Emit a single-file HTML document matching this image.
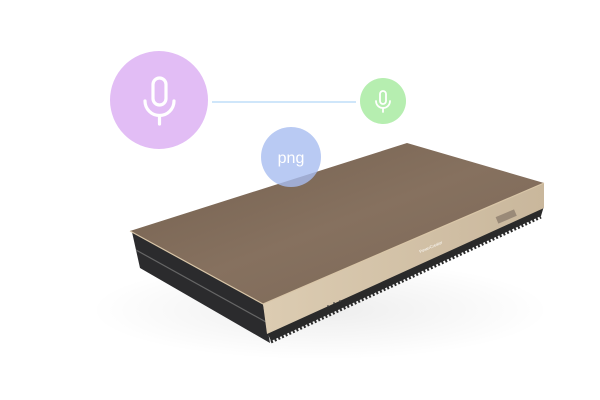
<!DOCTYPE html>
<html><head><style>
html,body{margin:0;padding:0;background:#fff;width:600px;height:400px;overflow:hidden}
</style></head><body>
<svg width="600" height="400" viewBox="0 0 600 400" xmlns="http://www.w3.org/2000/svg">
<defs>
<linearGradient id="top" x1="0" y1="0" x2="1" y2="1">
<stop offset="0" stop-color="#74604f"/><stop offset="0.5" stop-color="#86715f"/><stop offset="1" stop-color="#7a6656"/>
</linearGradient>
<linearGradient id="front" x1="0" y1="0" x2="1" y2="0">
<stop offset="0" stop-color="#dcccb2"/><stop offset="1" stop-color="#c9b79c"/>
</linearGradient>
<radialGradient id="sh" cx="0.5" cy="0.5" r="0.5">
<stop offset="0" stop-color="#000" stop-opacity="0.07"/><stop offset="1" stop-color="#000" stop-opacity="0"/>
</radialGradient>
</defs>
<ellipse cx="320" cy="310" rx="230" ry="50" fill="url(#sh)"/>
<!-- left dark side -->
<polygon points="132,232 263,304 270,343 140,268" fill="#2b2b2d"/>
<line x1="136" y1="250" x2="266" y2="322" stroke="#666" stroke-width="1.2"/>
<!-- fins -->
<polygon points="267,332 544,206 541,216 271,341" fill="#2a2a2a"/>
<line x1="271" y1="342" x2="541" y2="217" stroke="#2a2a2a" stroke-width="3" stroke-dasharray="2,2"/>
<!-- front gold face -->
<polygon points="263,304 544,183 544,208 267,334" fill="url(#front)"/>
<rect x="496" y="213" width="20" height="7" fill="#9a8a78" transform="rotate(-23 506 216)"/>
<text x="420" y="253" font-family="Liberation Sans,sans-serif" font-size="4" fill="#fff" transform="rotate(-23 420 253)">PowerCreator</text>
<circle cx="328" cy="306" r="0.9" fill="#444"/><circle cx="334" cy="303" r="0.9" fill="#444"/><circle cx="340" cy="301" r="0.9" fill="#444"/>
<!-- top surface -->
<polygon points="130,231 407,143 544,183 263,304" fill="url(#top)"/>
<polyline points="130,231 263,304 544,183" stroke="#d9c6a8" stroke-width="1.2" fill="none"/>
<!-- connector -->
<line x1="212" y1="102" x2="356" y2="102" stroke="#9fcdf5" stroke-width="1"/>
<!-- purple circle -->
<circle cx="159" cy="100" r="49" fill="#e2bdf5"/>
<g stroke="#fff" stroke-width="3.2" fill="none" stroke-linecap="round">
<rect x="153" y="78" width="13" height="27" rx="6.5"/>
<path d="M145,101 a14.5,14.5 0 0 0 29,0"/>
<line x1="159.5" y1="116" x2="159.5" y2="124"/>
</g>
<!-- green circle -->
<circle cx="383" cy="101" r="23" fill="#b6eeb0"/>
<g stroke="#fff" stroke-width="1.8" fill="none" stroke-linecap="round">
<rect x="380" y="91" width="6" height="13" rx="3"/>
<path d="M376,101 a7,7 0 0 0 14,0"/>
<line x1="383" y1="108" x2="383" y2="112"/>
</g>
<!-- blue png circle -->
<circle cx="291" cy="157" r="30" fill="#a8bdf0" fill-opacity="0.8"/>
<text x="291" y="163" text-anchor="middle" font-family="Liberation Sans,sans-serif" font-size="16" fill="#fff">png</text>
</svg>
</body></html>
